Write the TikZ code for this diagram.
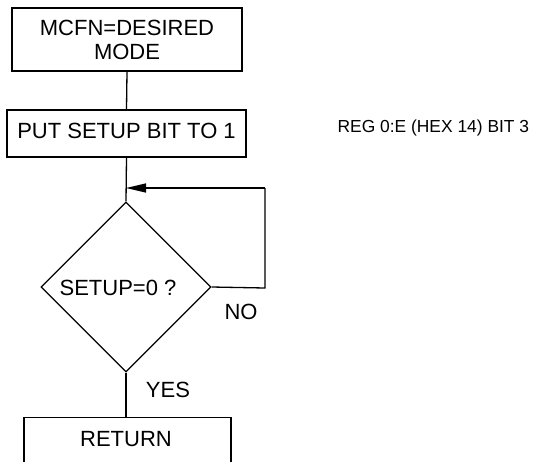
\documentclass[tikz,border=0pt]{standalone}
\usepackage{fontspec}
\setmainfont{Liberation Sans}
\usetikzlibrary{arrows.meta,shapes.geometric}
\begin{document}
\begin{tikzpicture}[x=1pt,y=-1pt,
  line width=1.3pt,
  every node/.style={font=\fontsize{22}{25}\selectfont, inner sep=0pt},
  stepbox/.style={draw, rectangle, line width=1.3pt},
  lbl/.style={font=\fontsize{22}{25}\selectfont},
  note/.style={font=\fontsize{17.4}{21}\selectfont},
  flow/.style={line width=1.3pt},
  arr/.style={line width=1.3pt, -{Triangle[length=20pt,width=9pt]}}
]
\useasboundingbox (0,0) rectangle (535,461);
\clip (0,0) rectangle (535,461);

\node[stepbox, minimum width=230pt, minimum height=63pt, align=center] (b1) at (127,39.5)
  {MCFN=DESIRED\\[-1pt]MODE};
\node[stepbox, minimum width=239pt, minimum height=47pt] (b2) at (126.5,133.5) {\raisebox{6pt}{PUT SETUP BIT TO 1}};
\node[note, anchor=west] (reg) at (337,128) {REG 0:E (HEX 14) BIT 3};

\node[draw, diamond, line width=1.3pt, minimum width=170pt, minimum height=170pt, aspect=1] (d) at (126,287) {};
\node[lbl] (dt) at (118,288) {SETUP=0 ?};

\coordinate (j) at (126,188);
\coordinate (r1) at (265,288);
\coordinate (r2) at (265,188);

\node[lbl] (no) at (241,312) {NO};
\node[lbl] (yes) at (168,390) {YES};

\node[stepbox, minimum width=207pt, minimum height=100pt, anchor=north] (ret) at (127.5,417) {};
\node[lbl] (rett) at (126,439) {RETURN};

\draw[flow] (b1.south) -- (b2.north);
\draw[flow] (b2.south) -- (d.north);
\draw[flow] (d.east) -- (r1) -- (r2);
\draw[arr] (r2) -- (j);
\draw[flow] (d.south) -- (ret.north -| d.south);
\end{tikzpicture}
\end{document}
